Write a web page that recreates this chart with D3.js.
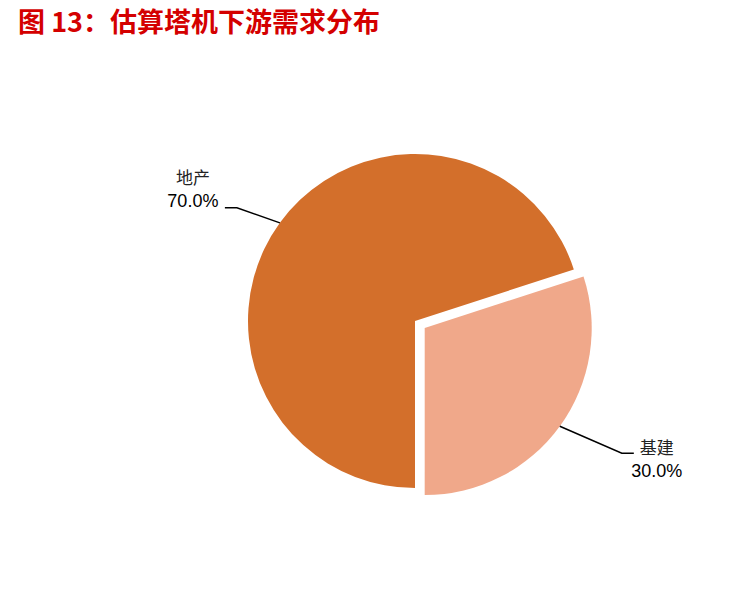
<!DOCTYPE html>
<html>
<head>
<meta charset="utf-8">
<script src="https://cdn.jsdelivr.net/npm/d3@7"></script>
<style>
  body { margin: 0; background: #fff; }
</style>
</head>
<body>
<div id="chart"></div>
<script>
// data
const categories = ['地产', '基建'];
const shares = [70.0, 30.0];
const sliceColors = ['#D36F2B', '#F0A88A'];
const exploded = [false, true];

const width = 737, height = 612;
const cx = 415, cy = 321, radius = 167, explodeDist = 12;

// leader bend (offset from slice edge point), label side, text offsets
const labelLayout = [
  { bend: [-43, -15], side: -1, dx: 32, dy: -1 },
  { bend: [62, 27], side: 1, dx: 23, dy: 24 }
];

const svg = d3.select('#chart').append('svg')
    .attr('width', width)
    .attr('height', height);

// title
svg.append('text')
    .attr('x', 18)
    .attr('y', 32)
    .attr('fill', '#D40000')
    .attr('font-family', 'Noto Sans CJK SC, sans-serif')
    .attr('font-weight', 'bold')
    .attr('font-size', '27px')
    .text('图 13：估算塔机下游需求分布');

const pie = d3.pie()
    .sort(null)
    .value(d => d)
    .startAngle(Math.PI)
    .endAngle(3 * Math.PI);

const arcs = pie(shares);
const arc = d3.arc().innerRadius(0).outerRadius(radius);

const g = svg.append('g');

arcs.forEach(function(a, i) {
    const mid = (a.startAngle + a.endAngle) / 2;
    const dir = [Math.sin(mid), -Math.cos(mid)];
    const off = exploded[i] ? explodeDist : 0;
    const ox = cx + dir[0] * off, oy = cy + dir[1] * off;

    g.append('path')
        .attr('d', arc(a))
        .attr('transform', `translate(${ox},${oy})`)
        .attr('fill', sliceColors[i]);

    // leader line: edge point -> bend -> short horizontal
    const ex = ox + dir[0] * radius, ey = oy + dir[1] * radius;
    const lay = labelLayout[i];
    const bx = ex + lay.bend[0], by = ey + lay.bend[1];
    const hx = bx + lay.side * 12;

    svg.append('polyline')
        .attr('points', `${ex},${ey} ${bx},${by} ${hx},${by}`)
        .attr('fill', 'none')
        .attr('stroke', '#000')
        .attr('stroke-width', 1.5);

    const tx = hx + lay.side * lay.dx;
    const ty = by + lay.dy;
    svg.append('text')
        .attr('x', tx)
        .attr('y', ty - 23)
        .attr('text-anchor', 'middle')
        .attr('font-family', 'Noto Sans CJK SC, sans-serif')
        .attr('font-size', '17px')
        .attr('fill', '#222')
        .text(categories[i]);

    svg.append('text')
        .attr('x', tx)
        .attr('y', ty)
        .attr('text-anchor', 'middle')
        .attr('font-family', 'Liberation Sans, Arial, sans-serif')
        .attr('font-size', '18px')
        .attr('fill', '#000')
        .text(shares[i].toFixed(1) + '%');
});
</script>
</body>
</html>
